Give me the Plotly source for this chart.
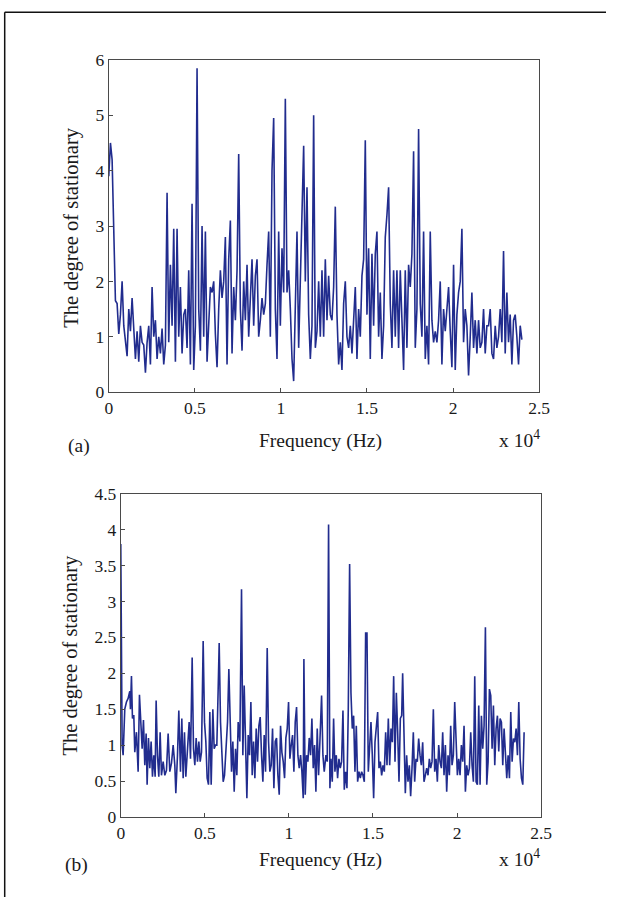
import numpy as np
import plotly.graph_objects as go

# ---------------- data: panel (a) -----------------
deg_a = [
    3.9, 4.5, 4.2, 3.05, 1.65, 1.6, 1.05, 1.4, 2.0, 1.2,
    0.85, 0.65, 1.5, 1.1, 1.7, 1.2, 0.6, 1.1, 0.55, 1.2,
    0.9, 0.85, 0.35, 0.9, 1.2, 0.5, 1.9, 1.0, 1.3, 0.6,
    1.0, 0.7, 1.15, 0.5, 0.85, 3.6, 0.9, 2.3, 1.2, 2.95,
    0.55, 2.95, 1.0, 1.9, 0.7, 1.4, 1.5, 0.8, 2.2, 0.5,
    3.4, 0.4, 1.2, 5.85, 1.5, 0.75, 3.0, 1.0, 2.9, 0.55,
    1.3, 1.9, 1.8, 2.0, 1.05, 0.45, 1.5, 2.2, 1.7, 2.0,
    2.8, 0.5, 2.4, 3.1, 0.7, 1.9, 1.3, 2.2, 4.3, 1.5,
    0.75, 2.0, 1.3, 2.3, 1.0, 1.85, 2.4, 1.2, 2.1, 2.4,
    1.0, 1.3, 1.7, 1.4, 1.6, 2.3, 2.9, 1.0, 4.0, 4.95,
    1.5, 0.6, 2.9, 1.2, 2.6, 1.8, 5.3, 1.8, 2.2, 1.5,
    0.6, 0.2, 1.5, 2.9, 0.8, 2.0, 2.9, 4.45, 2.0, 3.7,
    1.4, 0.6, 1.2, 5.0, 0.8, 1.1, 2.0, 1.0, 2.2, 1.0,
    2.4, 1.3, 2.1, 1.4, 1.3, 1.9, 3.35, 1.4, 0.5, 0.9,
    0.4, 1.6, 2.0, 1.0, 0.8, 1.2, 0.7, 1.2, 1.9, 0.6,
    1.5, 1.0, 2.1, 2.4, 4.55, 1.4, 2.6, 0.6, 2.5, 1.2,
    2.5, 2.9, 1.0, 1.8, 0.6, 1.2, 2.8, 3.2, 3.7, 1.6,
    0.8, 2.2, 1.0, 2.2, 0.8, 2.2, 1.2, 0.4, 2.2, 0.8,
    2.3, 1.9, 2.5, 4.35, 0.8, 1.5, 4.75, 1.6, 1.0, 2.9,
    0.6, 1.2, 0.5, 2.9, 1.3, 0.9, 1.1, 0.9, 1.3, 2.0,
    0.5, 1.5, 1.1, 1.6, 1.9, 1.1, 0.45, 2.3, 0.4, 1.4,
    1.8, 2.0, 2.95, 0.9, 1.5, 1.2, 0.3, 1.0, 1.8, 0.8,
    1.3, 0.7, 1.3, 0.8, 0.9, 1.5, 0.7, 1.2, 1.2, 1.5,
    0.7, 0.6, 1.2, 0.8, 1.0, 1.5, 0.9, 2.55, 0.7, 1.8,
    0.9, 1.4, 0.5, 1.3, 1.4, 1.0, 0.5, 1.2, 0.95,
]
# spectrum sampled uniformly from 0 to 24 kHz
freq_a = np.linspace(0, 24000, len(deg_a))

# ---------------- data: panel (b) -----------------
freq_b = [
    0, 79, 139, 238, 337, 436, 536, 575, 635, 694,
    774, 833, 932, 1032, 1111, 1190, 1270, 1349, 1428, 1508,
    1567, 1647, 1726, 1805, 1885, 1964, 2044, 2103, 2182, 2262,
    2341, 2420, 2520, 2619, 2718, 2817, 2916, 3016, 3115, 3214,
    3274, 3373, 3452, 3551, 3631, 3710, 3789, 3869, 3968, 4067,
    4147, 4246, 4325, 4404, 4484, 4563, 4643, 4722, 4801, 4900,
    4980, 5059, 5138, 5218, 5297, 5377, 5476, 5555, 5634, 5714,
    5793, 5853, 5932, 6012, 6091, 6170, 6250, 6349, 6428, 6508,
    6587, 6666, 6746, 6825, 6904, 6984, 7083, 7182, 7261, 7341,
    7420, 7500, 7579, 7658, 7738, 7817, 7896, 7976, 8055, 8134,
    8214, 8293, 8373, 8452, 8531, 8611, 8710, 8789, 8868, 8948,
    9027, 9107, 9186, 9265, 9345, 9424, 9503, 9583, 9662, 9742,
    9821, 9900, 9980, 10059, 10138, 10218, 10297, 10376, 10456, 10535,
    10614, 10694, 10773, 10853, 10892, 10972, 11051, 11130, 11210, 11289,
    11368, 11448, 11527, 11606, 11686, 11765, 11844, 11944, 12023, 12102,
    12202, 12281, 12360, 12440,
    12500, 12579, 12659, 12738, 12818, 12897, 12976, 13056, 13135, 13215,
    13294, 13373, 13453, 13532, 13612, 13691, 13770, 13850, 13929, 14009,
    14088, 14167, 14247, 14326, 14406, 14485, 14564, 14644, 14723, 14803,
    14882, 14961, 15041, 15120, 15200, 15279, 15358, 15438, 15517, 15597,
    15676, 15755, 15835, 15914, 15994, 16073, 16152, 16232, 16311, 16391,
    16470, 16549, 16629, 16708,
    16766, 16845, 16925, 17004, 17084, 17163, 17242, 17322, 17401, 17481,
    17560, 17639, 17719, 17798, 17878, 17957, 18036, 18116, 18195, 18275,
    18354, 18433, 18513, 18592, 18672, 18751, 18830, 18910, 18989, 19069,
    19148, 19227, 19307, 19386, 19466, 19545, 19624, 19704, 19783, 19863,
    19942, 20021, 20101, 20180, 20260, 20339, 20418, 20498, 20577, 20657,
    20736, 20815, 20895, 20974, 21054, 21133, 21212, 21292, 21371, 21451,
    21530, 21609, 21689, 21768, 21848, 21927, 22006, 22086, 22165, 22245,
    22324, 22403, 22483, 22562, 22642, 22721, 22800, 22880, 22959, 23039,
    23118, 23197, 23277, 23356, 23436, 23515, 23594, 23674, 23753, 23833,
    23912, 23991,
]
deg_b = [
    3.8, 1.0, 0.86, 1.5, 1.6, 1.65, 1.75, 1.5, 1.96, 1.37,
    1.42, 0.9, 1.18, 0.63, 1.7, 1.3, 0.95, 1.35, 0.72, 1.16,
    0.45, 1.1, 0.68, 1.05, 0.56, 0.86, 0.56, 1.62, 0.86, 0.56,
    1.18, 0.58, 0.77, 0.58, 0.65, 1.16, 0.63, 0.75, 1.0, 0.72,
    0.33, 0.86, 1.48, 0.63, 1.37, 0.54, 1.18, 0.56, 0.95, 1.32,
    0.81, 2.22, 0.95, 0.72, 1.1, 0.77, 1.05, 0.77, 0.9, 2.45,
    1.32, 1.05, 0.54, 0.45, 1.46, 0.45, 1.5, 0.95, 1.0, 1.0,
    1.78, 2.42, 1.32, 0.86, 0.49, 0.58, 1.0, 1.32, 2.06, 1.41,
    0.63, 1.05, 0.35, 0.95, 0.58, 1.32, 1.05, 3.17, 0.86, 1.83,
    1.14, 0.26, 1.14, 0.86, 1.6, 0.58, 1.05, 0.54, 1.23, 0.77,
    1.27, 1.39, 0.86, 0.49, 1.14, 0.63, 2.35, 1.05, 0.63, 0.72,
    1.23, 0.4, 1.05, 1.1, 0.58, 0.31, 1.27, 0.9, 0.77, 0.54,
    1.1, 1.23, 1.6, 0.81, 1.0, 1.14, 0.63, 1.32, 1.53, 0.86,
    0.68, 0.86, 0.63, 0.26, 2.2, 0.31, 0.86, 0.77, 1.1, 0.86,
    1.37, 0.68, 1.0, 0.35, 1.23, 0.58, 1.05, 1.69, 0.86, 0.63,
    0.86, 0.77, 4.07, 0.4,
    0.81, 0.49, 1.37, 0.63, 0.86, 0.54, 0.81, 0.68, 0.77, 1.48,
    0.38, 0.63, 0.4, 1.5, 3.52, 1.73, 1.23, 1.41, 0.63, 1.27,
    0.49, 0.63, 0.54, 0.63, 0.58, 0.49, 2.56, 2.56, 0.63, 1.0,
    1.32, 0.86, 0.26, 1.04, 1.23, 1.46, 0.68, 0.77, 0.58, 0.72,
    0.63, 1.18, 0.72, 1.37, 0.72, 1.23, 1.04, 1.96, 0.77, 1.73,
    1.18, 0.49, 1.37, 1.41,
    2.0, 0.86, 0.33, 0.86, 0.49, 0.72, 0.29, 0.68, 1.18, 0.49,
    0.81, 0.77, 1.09, 0.86, 0.72, 1.04, 0.49, 0.58, 0.68, 0.58,
    0.81, 0.68, 0.77, 1.5, 0.63, 0.81, 0.49, 1.0, 0.77, 0.68,
    1.18, 0.58, 1.0, 0.35, 0.86, 0.58, 1.27, 0.72, 0.86, 1.6,
    0.95, 0.58, 0.81, 0.58, 1.0, 0.77, 1.27, 0.35, 0.72, 0.58,
    0.68, 1.18, 0.72, 0.49, 1.96, 0.49, 0.45, 1.55, 0.45, 1.41,
    0.95, 1.27, 2.64, 0.45, 0.77, 1.78, 1.69, 0.95, 1.55, 0.72,
    1.23, 1.41, 0.91, 1.37, 1.32, 0.72, 1.23, 0.91, 0.54, 0.86,
    0.54, 1.46, 0.77, 1.09, 1.04, 1.23, 0.86, 1.6, 0.81, 0.54,
    0.45, 1.18,
]

x_ticks = [0, 0.5, 1, 1.5, 2, 2.5]
y_title = "The degree of stationary"
x_title = "Frequency (Hz)"
x_scale_label = "x 10<sup>4</sup>"
panel_labels = ["(a)", "(b)"]

# ---------------- figure -----------------
W, H = 617, 907
BODY_MARGIN = 8
# the capture maps the page slightly scaled; compensate so that the
# picture lands where the reference has it
SX, SY, BX = 0.975, 0.983, 3.5
FONT = "Liberation Serif"
LINE_COLOR = "#212c8e"
AXIS_COLOR = "#4a4a4a"


def px_x(p):
    """reference-picture pixel -> paper fraction"""
    f = (p + BX) / SX - BODY_MARGIN
    return min(max(f / W, 0.0), 1.0)


def px_y(p):
    f = p / SY - BODY_MARGIN
    return min(max(1 - f / H, 0.0), 1.0)


fig = go.Figure()
fig.add_trace(go.Scatter(x=np.asarray(freq_a) / 1e4, y=deg_a, mode="lines",
                         line=dict(color=LINE_COLOR, width=1.6),
                         xaxis="x", yaxis="y", showlegend=False))
fig.add_trace(go.Scatter(x=np.asarray(freq_b) / 1e4, y=deg_b, mode="lines",
                         line=dict(color=LINE_COLOR, width=1.6),
                         xaxis="x2", yaxis="y2", showlegend=False))

common_axis = dict(showline=True, linecolor=AXIS_COLOR, linewidth=1, mirror=True,
                   ticks="inside", ticklen=4, tickcolor=AXIS_COLOR, showgrid=False,
                   zeroline=False, tickfont=dict(family=FONT, size=17.5, color="#1a1a1a"))

fig.update_layout(
    width=W, height=H, margin=dict(l=0, r=0, t=0, b=0),
    paper_bgcolor="white", plot_bgcolor="white",
    xaxis=dict(domain=[px_x(109), px_x(539)], range=[0, 2.5], tickvals=x_ticks,
               anchor="y", **common_axis),
    yaxis=dict(domain=[px_y(392), px_y(58)], range=[0, 6], dtick=1,
               anchor="x", **common_axis),
    xaxis2=dict(domain=[px_x(121), px_x(541)], range=[0, 2.5], tickvals=x_ticks,
                anchor="y2", **common_axis),
    yaxis2=dict(domain=[px_y(819), px_y(494)], range=[0, 4.5], dtick=0.5,
                anchor="x2", **common_axis),
)

ann_font = dict(family=FONT, size=19.5, color="#1a1a1a")
annotations = [
    # panel (a)
    dict(x=px_x(321), y=px_y(441), text=x_title),
    dict(x=px_x(79), y=px_y(446), text=panel_labels[0]),
    dict(x=px_x(497), y=px_y(439), text=x_scale_label, xanchor="left"),
    dict(x=px_x(71), y=px_y(226), text=y_title, textangle=-90, size=20.5),
    # panel (b)
    dict(x=px_x(321), y=px_y(862), text=x_title),
    dict(x=px_x(77), y=px_y(867), text=panel_labels[1]),
    dict(x=px_x(497), y=px_y(860), text=x_scale_label, xanchor="left"),
    dict(x=px_x(71), y=px_y(656), text=y_title, textangle=-90, size=20.5),
]
for a in annotations:
    size = a.pop("size", 19.5)
    a.setdefault("xanchor", "center")
    fig.add_annotation(xref="paper", yref="paper", showarrow=False, yanchor="middle",
                       font=dict(ann_font, size=size), **a)

# outer frame of the figure (top and left edges)
fig.add_shape(type="line", xref="paper", yref="paper",
              x0=px_x(5), x1=1.0, y0=px_y(10), y1=px_y(10),
              line=dict(color="#111", width=1.5))
fig.add_shape(type="line", xref="paper", yref="paper",
              x0=px_x(5), x1=px_x(5), y0=px_y(10), y1=0,
              line=dict(color="#111", width=1.5))

fig.write_html("out.html")
